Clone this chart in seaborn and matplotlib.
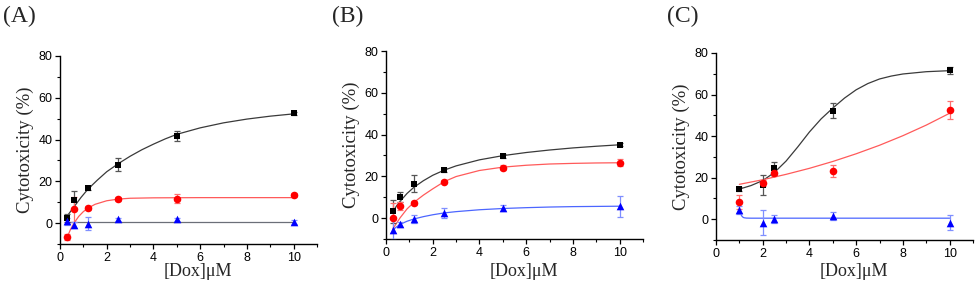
import numpy as np
import pandas as pd
import seaborn as sns
import matplotlib.pyplot as plt
from matplotlib.ticker import MultipleLocator

# ---- measured points (x = [Dox] in uM, y = cytotoxicity %) ----
x_ab = [0.3, 0.6, 1.2, 2.5, 5, 10]
x_c = [1, 2, 2.5, 5, 10]

a_black = [2.6, 10.9, 16.8, 28.0, 41.6, 52.5]
a_black_err = [2.0, 4.5, 1.0, 3.0, 2.5, 0.8]
a_red = [-6.7, 6.6, 7.2, 11.5, 11.7, 13.3]
a_red_err = [1.5, 6.0, 1.0, 1.0, 2.0, 1.0]
a_blue = [0.8, -0.8, -0.3, 1.8, 1.8, 0.6]
a_blue_err = [1.5, 1.5, 3.0, 0.8, 0.8, 0.8]

b_black = [3.2, 10.0, 16.5, 23.1, 29.8, 35.1]
b_black_err = [5.5, 2.5, 4.0, 0.8, 0.8, 0.8]
b_red = [0.0, 5.8, 7.4, 17.5, 24.2, 26.6]
b_red_err = [7.0, 2.0, 1.0, 0.8, 1.0, 1.5]
b_blue = [-5.6, -2.9, -0.5, 2.4, 4.8, 5.6]
b_blue_err = [5.0, 1.2, 2.0, 2.5, 1.5, 5.0]

c_black = [14.4, 16.5, 24.5, 52.3, 71.6]
c_black_err = [1.0, 4.8, 3.0, 3.8, 1.5]
c_red = [8.3, 17.3, 22.1, 23.2, 52.5]
c_red_err = [3.5, 1.5, 1.5, 2.8, 4.5]
c_blue = [4.5, -1.6, 0.0, 1.6, -1.6]
c_blue_err = [2.0, 5.8, 2.0, 1.8, 3.6]

# ---- fitted curves ----
fa_black_x = [0.3, 0.6, 0.9, 1.2, 1.6, 2, 2.5, 3, 3.5, 4, 4.5, 5, 6, 7, 8, 9, 10]
fa_black_y = [3.3, 7.8, 12.3, 16.3, 20.6, 24.6, 28.5, 32.0, 35.1, 37.8, 40.3, 42.5, 45.6, 48.0, 49.8, 51.2, 52.3]
fa_red_x = [0.3, 0.45, 0.6, 0.8, 1.0, 1.2, 1.5, 2, 2.5, 3, 4, 6, 10]
fa_red_y = [-7.0, -3.0, 0.0, 3.2, 5.5, 7.2, 9.0, 10.7, 11.5, 11.9, 12.1, 12.2, 12.2]
fa_blue_x = [0.3, 10]
fa_blue_y = [0.7, 0.7]

fb_black_x = [0.3, 0.45, 0.6, 0.9, 1.2, 1.6, 2, 2.5, 3, 4, 5, 6, 7, 8, 9, 10]
fb_black_y = [3.2, 5.8, 8.0, 11.8, 14.8, 17.9, 20.5, 23.0, 25.0, 27.9, 29.9, 31.4, 32.6, 33.6, 34.4, 35.1]
fb_red_x = [0.3, 0.6, 0.9, 1.2, 1.6, 2, 2.5, 3, 4, 5, 6, 7, 8, 9, 10]
fb_red_y = [-5.0, 0.1, 4.4, 7.6, 11.0, 14.0, 17.5, 19.9, 22.8, 24.4, 25.3, 25.9, 26.2, 26.4, 26.5]
fb_blue_x = [0.3, 0.45, 0.6, 0.9, 1.2, 1.6, 2, 2.5, 3, 4, 5, 6, 7, 8, 9, 10]
fb_blue_y = [-5.6, -4.2, -3.0, -1.5, -0.4, 0.7, 1.6, 2.5, 3.1, 4.0, 4.6, 5.0, 5.3, 5.5, 5.6, 5.7]

fc_black_x = [1, 1.5, 2, 2.5, 3, 3.5, 4, 4.5, 5, 5.5, 6, 6.5, 7, 7.5, 8, 9, 10]
fc_black_y = [14.5, 16.2, 18.6, 22.5, 28.0, 34.8, 42.0, 48.3, 53.5, 58.3, 62.3, 65.3, 67.5, 68.9, 69.9, 71.0, 71.5]
fc_red_x = [1, 2, 3, 4, 5, 6, 7, 8, 9, 10]
fc_red_y = [16.8, 19.0, 21.6, 24.5, 27.8, 31.5, 35.6, 40.2, 45.3, 51.0]
fc_blue_x = [1, 1.05, 1.1, 1.15, 1.2, 1.3, 1.5, 2, 5, 10]
fc_blue_y = [4.5, 2.8, 1.6, 1.0, 0.7, 0.55, 0.5, 0.5, 0.5, 0.5]

panel_labels = ['(A)', '(B)', '(C)']

sns.set_style('ticks')
plt.rcParams['font.family'] = ['Liberation Sans', 'DejaVu Sans']

serif = ['Liberation Serif', 'DejaVu Serif']

fig = plt.figure(figsize=(9.76, 2.85), dpi=100)

# axes boxes measured in pixels: left, top, right, bottom
boxes = [(60, 56, 317, 244), (386, 51, 643, 239), (716, 53, 973, 240)]
xlabel_y = [271, 272, 272]  # pixel centre of the x-axis title
W, H = 976, 285

panels = [
    (x_ab, [(a_black, a_black_err), (a_red, a_red_err), (a_blue, a_blue_err)],
     [(fa_black_x, fa_black_y), (fa_red_x, fa_red_y), (fa_blue_x, fa_blue_y)]),
    (x_ab, [(b_black, b_black_err), (b_red, b_red_err), (b_blue, b_blue_err)],
     [(fb_black_x, fb_black_y), (fb_red_x, fb_red_y), (fb_blue_x, fb_blue_y)]),
    (x_c, [(c_black, c_black_err), (c_red, c_red_err), (c_blue, c_blue_err)],
     [(fc_black_x, fc_black_y), (fc_red_x, fc_red_y), (fc_blue_x, fc_blue_y)]),
]

marker_colors = ['#000000', '#ff0000', '#0000ff']
err_colors = ['#555555', '#ff7070', '#7f8fff']
markers = ['s', 'o', '^']
msizes = [22, 30, 30]
fit_colors = [['#3a3a3a', '#ff5a5a', '#6b6f78'],
              ['#3a3a3a', '#ff5a5a', '#4c66ff'],
              ['#3a3a3a', '#ff5a5a', '#4c66ff']]

for i, (xs, series, fits) in enumerate(panels):
    l, t, r, b = boxes[i]
    ax = fig.add_axes([l / W, 1 - b / H, (r - l) / W, (b - t) / H])

    # fitted curves
    for j, (fx, fy) in enumerate(fits):
        fdf = pd.DataFrame({'x': fx, 'y': fy})
        sns.lineplot(data=fdf, x='x', y='y', ax=ax, color=fit_colors[i][j],
                     lw=0.9, sort=False, estimator=None, zorder=2)

    # error bars and points
    for j, (ys, es) in enumerate(series):
        ax.errorbar(xs, ys, yerr=es, fmt='none', ecolor=err_colors[j],
                    elinewidth=0.9, capsize=2.2, capthick=0.9, zorder=3)
        pdf = pd.DataFrame({'x': xs, 'y': ys})
        sns.scatterplot(data=pdf, x='x', y='y', ax=ax, marker=markers[j],
                        color=marker_colors[j], s=msizes[j], linewidth=0,
                        zorder=4)

    ax.set_xlim(0, 11)
    ax.set_ylim(-10, 80)
    ax.xaxis.set_major_locator(MultipleLocator(2))
    ax.xaxis.set_minor_locator(MultipleLocator(1))
    ax.yaxis.set_major_locator(MultipleLocator(20))
    ax.yaxis.set_minor_locator(MultipleLocator(10))
    ax.set_xticks([0, 2, 4, 6, 8, 10])
    ax.set_yticks([0, 20, 40, 60, 80])
    ax.tick_params(which='major', length=3.5, width=0.9, labelsize=9, pad=2,
                   color='black', labelcolor='black')
    ax.tick_params(which='minor', length=2, width=0.8, color='black')
    sns.despine(ax=ax)
    for s in ['left', 'bottom']:
        ax.spines[s].set_linewidth(1.0)
        ax.spines[s].set_color('black')

    ax.set_xlabel('[Dox]\u03bcM', fontsize=13, family=serif)
    ax.set_ylabel('Cytotoxicity (%)', fontsize=13.5, family=serif, labelpad=3)
    # place x title at the measured pixel row (centred over the 0-10 range)
    ly = -(xlabel_y[i] - b) / (b - t)
    ax.xaxis.set_label_coords(0.535, ly)
    ax.xaxis.label.set_va('center')

label_x = [3, 332, 667]
for lx, lab in zip(label_x, panel_labels):
    fig.text(lx / W, 1 - 16 / H, lab, fontsize=17, family=serif,
             va='center', ha='left')

fig.savefig('out.png', dpi=100)
